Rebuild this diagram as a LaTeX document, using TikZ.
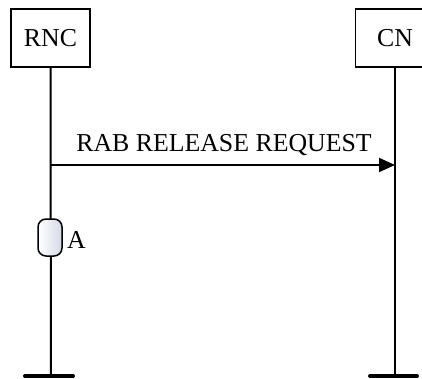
\documentclass[tikz,border=0pt]{standalone}
\usepackage{fontspec}
\setmainfont{Liberation Serif}
\usetikzlibrary{arrows.meta}
\definecolor{pillshade}{RGB}{212,217,230}
\begin{document}
\begin{tikzpicture}[x=1pt,y=-1pt,
  lbl/.style={font=\fontsize{25.8}{30}\selectfont, inner sep=0pt, anchor=base},
  entity/.style={draw, line width=1.5pt, minimum width=79pt, minimum height=58pt, inner sep=0pt, font=\fontsize{25.8}{30}\selectfont},
  life/.style={line width=2pt},
  foot/.style={line width=4pt, line cap=round},
  msg/.style={line width=2pt, -{Triangle[length=16pt,width=14pt]}},
  timer/.style={draw, line width=1.5pt, rounded corners=8pt, minimum width=24pt, minimum height=37pt, inner sep=0pt, left color=white, right color=pillshade}]
\useasboundingbox (0,0) rectangle (422,379);
\clip (0,0) rectangle (422,379);
% entities
\node[entity] (rnc) at (50.5,38) {RNC};
\node[entity] (cn) at (395,38) {CN};
% lifeline ends
\coordinate (rncend) at (51,376);
\coordinate (cnend) at (395,376);
\coordinate (rncfl) at (25,376);
\coordinate (rncfr) at (73,376);
\coordinate (cnfl) at (370,376);
\coordinate (cnfr) at (417,376);
\draw[life] (rnc.south) -- (rncend);
\draw[life] (cn.south) -- (cnend);
\draw[foot] (rncfl) -- (rncfr);
\draw[foot] (cnfl) -- (cnfr);
% message
\coordinate (rncmsg) at (51,165);
\coordinate (cnmsg) at (395,165);
\draw[msg] (rncmsg) -- (cnmsg);
\node[lbl] (m1) at (224,152) {RAB RELEASE REQUEST};
% timer
\node[timer] (t) at (50,237.5) {};
\node[lbl, anchor=base west] (a) at (67,248) {A};
\end{tikzpicture}
\end{document}
